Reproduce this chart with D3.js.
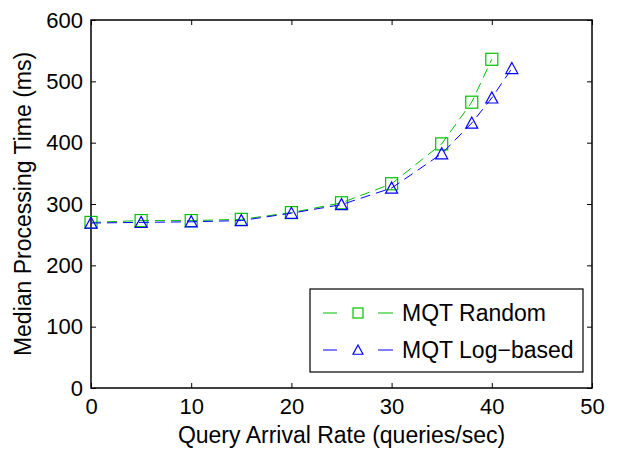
<!DOCTYPE html>
<html>
<head>
<meta charset="utf-8">
<script src="https://cdn.jsdelivr.net/npm/d3@7"></script>
<style>
  body { margin: 0; background: #fff; }
  text { font-family: "Liberation Sans", Arial, sans-serif; fill: #000; }
</style>
</head>
<body>
<div id="chart"></div>
<script>
// data
const rates = [0, 5, 10, 15, 20, 25, 30, 35, 38, 40];
const randomTimes = [270, 273, 273, 275, 286, 302, 333, 398, 466, 536];
const logRates = [0, 5, 10, 15, 20, 25, 30, 35, 38, 40, 42];
const logTimes = [269, 270, 271, 273, 285, 299, 326, 382, 432, 473, 521];
const xTicks = [0, 10, 20, 30, 40, 50];
const yTicks = [0, 100, 200, 300, 400, 500, 600];

const series = [
    {name: "MQT Random", xs: rates, ys: randomTimes, color: "#00c000", marker: "square"},
    {name: "MQT Log\u2212based", xs: logRates, ys: logTimes, color: "#0000ff", marker: "triangle"}
];

const W = 619, H = 451;
const margin = {top: 20, right: 27, bottom: 63, left: 91};
const width = W - margin.left - margin.right;
const height = H - margin.top - margin.bottom;

const svg = d3.select("#chart").append("svg")
    .attr("width", W)
    .attr("height", H);

const g = svg.append("g")
    .attr("transform", `translate(${margin.left},${margin.top})`);

const x = d3.scaleLinear().domain([0, 50]).range([0, width]);
const y = d3.scaleLinear().domain([0, 600]).range([height, 0]);

// ticks pointing inward, mirrored on top/right
const tick = 5;
g.append("g").call(d3.axisBottom(x).tickValues(xTicks).tickSize(-tick).tickPadding(10))
    .attr("transform", `translate(0,${height})`)
    .call(a => a.select(".domain").remove())
    .call(a => a.selectAll("text").style("font-size", "22px"));
g.append("g").call(d3.axisTop(x).tickValues(xTicks).tickSize(-tick).tickFormat(""))
    .call(a => a.select(".domain").remove());
g.append("g").call(d3.axisLeft(y).tickValues(yTicks).tickSize(-tick).tickPadding(8))
    .call(a => a.select(".domain").remove())
    .call(a => a.selectAll("text").style("font-size", "22px"));
g.append("g").call(d3.axisRight(y).tickValues(yTicks).tickSize(-tick).tickFormat(""))
    .attr("transform", `translate(${width},0)`)
    .call(a => a.select(".domain").remove());

g.append("rect")
    .attr("width", width).attr("height", height)
    .attr("fill", "none").attr("stroke", "#000").attr("stroke-width", 1.5);

const line = d3.line().x(d => x(d[0])).y(d => y(d[1]));

function drawMarker(sel, type, size, color) {
    if (type === "square") {
        sel.append("rect")
            .attr("x", -size / 2).attr("y", -size / 2)
            .attr("width", size).attr("height", size)
            .attr("fill", "none").attr("stroke", color).attr("stroke-width", 1.2);
    } else {
        const r = size / 2;
        sel.append("path")
            .attr("d", `M0,${-r}L${r},${r * 0.85}L${-r},${r * 0.85}Z`)
            .attr("fill", "none").attr("stroke", color).attr("stroke-width", 1.2);
    }
}

series.forEach(s => {
    const pts = s.xs.map((v, i) => [v, s.ys[i]]);
    g.append("path")
        .datum(pts)
        .attr("d", line)
        .attr("fill", "none")
        .attr("stroke", s.color)
        .attr("stroke-width", 1)
        .attr("stroke-dasharray", "10,6");
    g.selectAll(null)
        .data(pts)
        .enter()
        .append("g")
        .attr("transform", d => `translate(${x(d[0])},${y(d[1])})`)
        .each(function() { drawMarker(d3.select(this), s.marker, 12, s.color); });
});

// axis labels
svg.append("text")
    .attr("x", margin.left + width / 2)
    .attr("y", 443)
    .attr("text-anchor", "middle")
    .style("font-size", "23px")
    .text("Query Arrival Rate (queries/sec)");
svg.append("text")
    .attr("transform", `translate(31,${margin.top + height / 2}) rotate(-90)`)
    .attr("text-anchor", "middle")
    .style("font-size", "23px")
    .text("Median Processing Time (ms)");

// legend
const legend = svg.append("g").attr("transform", "translate(310,289)");
legend.append("rect")
    .attr("width", 273).attr("height", 83)
    .attr("fill", "#fff").attr("stroke", "#000").attr("stroke-width", 1.2);
series.forEach((s, i) => {
    const row = legend.append("g").attr("transform", `translate(0,${24 + i * 37})`);
    row.append("line").attr("x1", 13).attr("x2", 27).attr("stroke", s.color);
    row.append("line").attr("x1", 68).attr("x2", 83).attr("stroke", s.color);
    const m = row.append("g").attr("transform", "translate(48,0)");
    drawMarker(m, s.marker, 10, s.color);
    row.append("text")
        .attr("x", 92).attr("dy", "0.35em")
        .style("font-size", "23px")
        .text(s.name);
});
</script>
</body>
</html>
